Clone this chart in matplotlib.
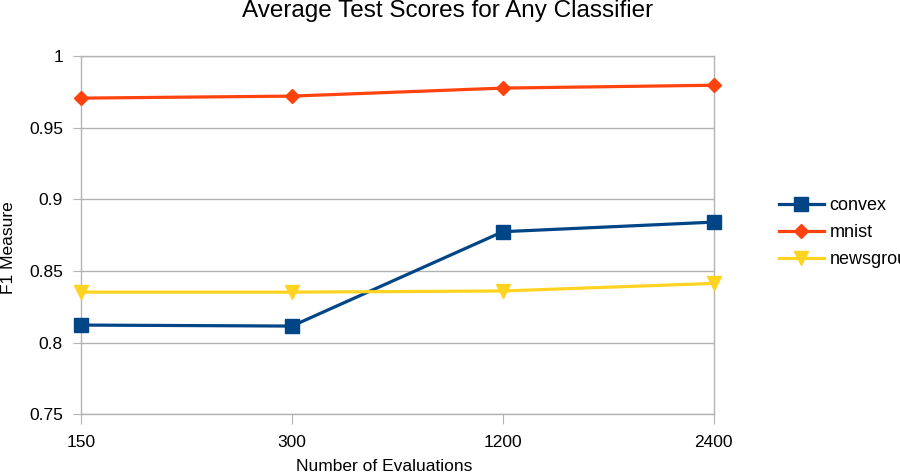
import matplotlib
matplotlib.use("Agg")
import matplotlib.pyplot as plt

plt.rcParams['font.family'] = ['Liberation Sans', 'DejaVu Sans']

categories = ["150", "300", "1200", "2400"]
convex = [0.8122, 0.8115, 0.8774, 0.8841]
mnist = [0.9707, 0.9721, 0.9777, 0.9797]
newsgroups = [0.8352, 0.8352, 0.8360, 0.8413]
yticks = [0.75, 0.8, 0.85, 0.9, 0.95, 1.0]
ytick_labels = ["0.75", "0.8", "0.85", "0.9", "0.95", "1"]

fig = plt.figure(figsize=(9, 4.76), dpi=100)
ax = fig.add_axes([0.09, 0.130, 0.703, 0.752])

x = list(range(len(categories)))
grid_c = "#b3b3b3"
ax.plot(x, convex, color="#004586", lw=2.3, marker="s", ms=10.5, label="convex", clip_on=False, zorder=3)
ax.plot(x, mnist, color="#ff420e", lw=2.3, marker="D", ms=7.5, label="mnist", clip_on=False, zorder=3)
ax.plot(x, newsgroups, color="#ffd320", lw=2.3, marker="v", ms=10.5, label="newsgroups", clip_on=False, zorder=3)

ax.set_xlim(0, 3)
ax.set_ylim(0.75, 1.0)
ax.set_xticks(x)
ax.set_xticklabels(categories, fontsize=12.5)
ax.set_yticks(yticks)
ax.set_yticklabels(ytick_labels, fontsize=12.5)
ax.yaxis.grid(True, color=grid_c, lw=1)
ax.set_axisbelow(True)
for s in ax.spines.values():
    s.set_color(grid_c)
    s.set_linewidth(1)
ax.tick_params(axis='x', length=7, color=grid_c, pad=8)
ax.tick_params(axis='y', length=6, color=grid_c, pad=7)

fig.text(384 / 900, 1 - 459 / 476, "Number of Evaluations", ha="center", va="top", fontsize=12.5)
fig.text(9 / 900, 1 - 248 / 476, "F1 Measure", ha="center", va="center", rotation=90, fontsize=12.5)
fig.text(448 / 900, 0.977, "Average Test Scores for Any Classifier", ha="center", va="center", fontsize=17.5)

leg = ax.legend(loc="center left", bbox_to_anchor=(1.078, 0.507), frameon=False, fontsize=13,
                handlelength=2.45, labelspacing=0.55, handletextpad=0.33)

fig.savefig("out.png", dpi=100)
